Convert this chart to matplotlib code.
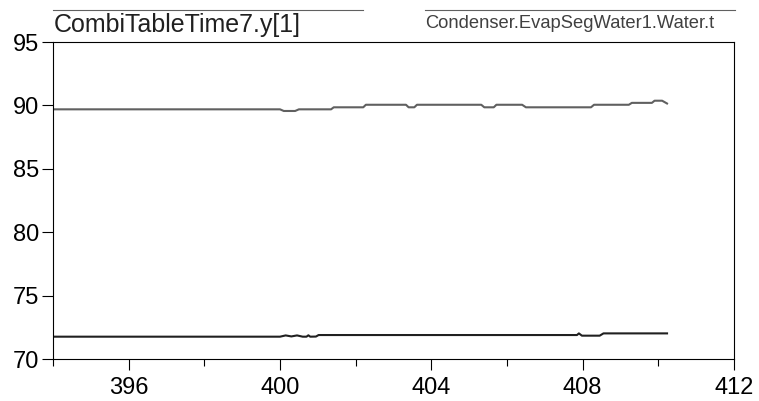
import matplotlib
matplotlib.use("Agg")
import matplotlib.pyplot as plt
from matplotlib.ticker import MultipleLocator

plt.rcParams['font.family'] = ['Liberation Sans', 'DejaVu Sans']

# upper trace: Condenser.EvapSegWater1.Water.t (grey)
t_upper = [394.0, 400.0, 400.1, 400.4, 400.5, 401.35, 401.42, 402.2, 402.27,
           403.33, 403.4, 403.55, 403.62, 405.32, 405.4, 405.65, 405.72,
           406.4, 406.5, 408.22, 408.3, 409.22, 409.3, 409.83, 409.9,
           410.1, 410.23]
v_upper = [89.69, 89.69, 89.56, 89.56, 89.69, 89.69, 89.85, 89.85, 90.05,
           90.05, 89.85, 89.85, 90.05, 90.05, 89.85, 89.85, 90.05,
           90.05, 89.85, 89.85, 90.05, 90.05, 90.2, 90.2, 90.37,
           90.37, 90.15]

# lower trace: CombiTableTime7.y[1] (black)
t_lower = [394.0, 400.0, 400.15, 400.3, 400.45, 400.6, 400.7, 400.75, 400.8,
           400.95, 401.02, 407.85, 407.9, 407.98, 408.45, 408.55, 410.23]
v_lower = [71.76, 71.76, 71.86, 71.78, 71.86, 71.76, 71.76, 71.87, 71.76,
           71.77, 71.89, 71.89, 72.02, 71.84, 71.84, 72.02, 72.02]

fig = plt.figure(figsize=(7.59, 4.01), dpi=100)
ax = fig.add_axes([53/759, 42/401, 681/759, 317/401])

ax.plot(t_upper, v_upper, color='#606060', lw=1.5)
ax.plot(t_lower, v_lower, color='#202020', lw=1.5)

ax.set_xlim(394, 412)
ax.set_ylim(70, 95)
ax.xaxis.set_major_locator(MultipleLocator(4))
ax.xaxis.set_minor_locator(MultipleLocator(2))
ax.yaxis.set_major_locator(MultipleLocator(5))
ax.tick_params(axis='both', which='major', direction='out', length=8, width=0.8,
               labelsize=17, colors='#000000')
ax.tick_params(axis='x', which='major', pad=5)
ax.tick_params(axis='y', which='major', pad=2)
ax.tick_params(axis='x', which='minor', direction='out', length=5, width=0.8)
for s in ax.spines.values():
    s.set_linewidth(0.8)
    s.set_color('#000000')

# legend labels with overlines above the plot
fig.text(54/759, 1 - 32/401, 'CombiTableTime7.y[1]', fontsize=18,
         color='#202020', ha='left', va='baseline')
fig.add_artist(plt.Line2D([53/759, 363/759], [1 - 10/401, 1 - 10/401],
                          color='#606060', lw=0.8))
fig.text(425/759, 1 - 28/401, 'Condenser.EvapSegWater1.Water.t', fontsize=13.2,
         color='#404040', ha='left', va='baseline')
fig.add_artist(plt.Line2D([425/759, 735/759], [1 - 10/401, 1 - 10/401],
                          color='#606060', lw=0.8))

fig.savefig('out.png', dpi=100)
